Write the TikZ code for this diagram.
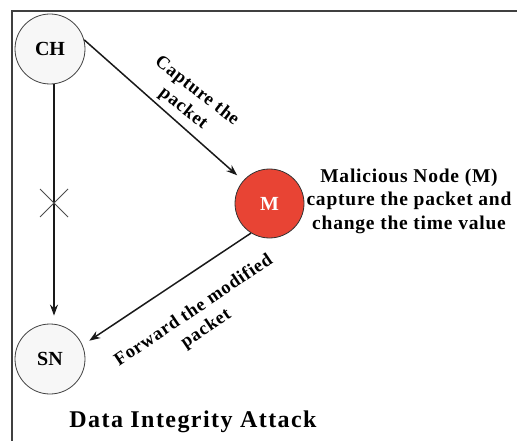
\documentclass[tikz,border=0pt]{standalone}
\usepackage{fontspec}
\setmainfont{Liberation Serif}
\newfontfamily\lblfont{Liberation Serif}[LetterSpace=4]
\newfontfamily\titlefont{Liberation Serif}[LetterSpace=6]
\usetikzlibrary{arrows.meta}
\definecolor{malred}{RGB}{232,68,52}
\begin{document}
\begin{tikzpicture}[x=1pt,y=-1pt,
  sensor/.style={circle,draw=black!75,line width=0.8pt,fill=black!3,
    minimum size=70pt,inner sep=0pt,font=\fontsize{20}{20}\selectfont\bfseries},
  attacker/.style={circle,draw=black!80,line width=0.8pt,fill=malred,
    minimum size=69pt,inner sep=0pt,text=white,font=\fontsize{20}{20}\selectfont\bfseries},
  flow/.style={line width=1.5pt,draw=black!90,-{Stealth[length=11pt,width=8pt]},shorten >=8pt},
  note/.style={align=center,inner sep=0pt,font=\lblfont\fontsize{19.5}{23.5}\selectfont\bfseries},
  edgelabel/.style={align=center,inner sep=0pt,font=\lblfont\fontsize{18.5}{22}\selectfont\bfseries}]
  \useasboundingbox (0,0) rectangle (517,441);
  % frame
  \draw[line width=1.2pt,black!75] (12,441) -- (12,11) -- (517,11);
  % nodes
  \node[sensor] (CH) at (50,49) {CH};
  \node[sensor] (SN) at (50,359) {SN};
  \node[attacker] (M) at (269.5,203.5) {M};
  % connectors
  \draw[flow] ([xshift=4pt]CH.south) -- ([xshift=4pt]SN.north);
  \draw[flow] (CH.15) -- (M.139);
  \draw[flow] (M.238) -- (SN.23);
  % blocked path mark
  \coordinate (cut) at (54,203);
  \draw[line width=0.8pt,black!70] ([shift={(-14,-14)}]cut) -- ([shift={(14,14)}]cut)
    ([shift={(-14,14)}]cut) -- ([shift={(14,-14)}]cut);
  % labels
  \node[edgelabel,rotate=-38] (cap) at (190,100) {Capture the\\packet};
  \node[edgelabel,rotate=34] (fwd) at (200,320) {Forward the modified\\packet};
  \node[note] (mdesc) at (409,201) {Malicious Node (M)\\capture the packet and\\change the time value};
  \node[inner sep=0pt,font=\titlefont\fontsize{24}{26}\selectfont\bfseries] (title) at (193,422) {Data Integrity Attack};
\end{tikzpicture}
\end{document}
